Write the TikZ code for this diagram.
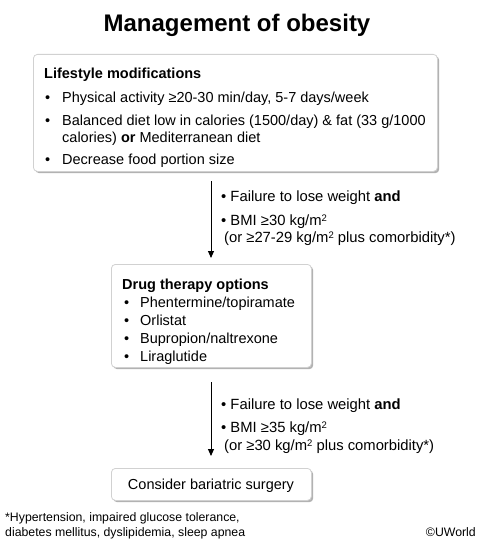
\documentclass[tikz,border=0pt]{standalone}
\usepackage{fontspec}
\setmainfont{Liberation Sans}
\usetikzlibrary{shadows,arrows.meta}
\newcommand\mysqr{\raisebox{4pt}{\fontsize{9.5}{10}\selectfont 2}}
\begin{document}
\begin{tikzpicture}[x=1pt,y=-1pt,
  box/.style={draw=black!18, line width=0.8pt, fill=white, rounded corners=4pt,
    drop shadow={shadow xshift=1.8pt, shadow yshift=-1.8pt, opacity=0.55, fill=black!55}},
  txt/.style={anchor=base west, inner sep=0pt, font=\fontsize{14.5}{16}\selectfont},
  bul/.style={anchor=base west, inner sep=0pt, font=\fontsize{14.5}{16}\selectfont},
  lab/.style={anchor=base west, inner sep=0pt, font=\fontsize{14.8}{16}\selectfont},
  small/.style={anchor=base west, inner sep=0pt, font=\fontsize{12.3}{14}\selectfont},
  arr/.style={-{Triangle[length=7pt,width=6pt]}, line width=0.9pt}]
\useasboundingbox (0,0) rectangle (481,543);
\node[inner sep=0pt, anchor=base, font=\fontsize{24}{26}\bfseries] (title) at (237,32) {Management of obesity};
% box 1
\node[box, minimum width=404pt, minimum height=117pt, anchor=north west] (b1) at (33,54) {};
\node[txt, font=\fontsize{14.5}{16}\bfseries] (b1h) at (44,78) {Lifestyle modifications};
\node[bul] (b1a) at (45,102) {•};
\node[txt] (b1at) at (62,102) {Physical activity ≥20-30 min/day, 5-7 days/week};
\node[bul] (b1b) at (45,125) {•};
\node[txt] (b1bt) at (62,125) {Balanced diet low in calories (1500/day) \& fat (33 g/1000};
\node[txt] (b1bt2) at (62,142) {calories) \textbf{or} Mediterranean diet};
\node[bul] (b1c) at (45,164) {•};
\node[txt] (b1ct) at (62,164) {Decrease food portion size};
% box 2
\node[box, minimum width=200pt, minimum height=103pt, anchor=north west] (b2) at (111,264) {};
\node[txt, font=\fontsize{14.5}{16}\bfseries] (b2h) at (122,289) {Drug therapy options};
\node[bul] (b2a) at (124,307) {•};
\node[txt] (b2at) at (140,307) {Phentermine/topiramate};
\node[bul] (b2b) at (124,325) {•};
\node[txt] (b2bt) at (140,325) {Orlistat};
\node[bul] (b2c) at (124,343) {•};
\node[txt] (b2ct) at (140,343) {Bupropion/naltrexone};
\node[bul] (b2d) at (124,361) {•};
\node[txt] (b2dt) at (140,361) {Liraglutide};
% box 3
\node[box, minimum width=200pt, minimum height=32pt, anchor=north west] (b3) at (111,468) {};
\node[inner sep=0pt, anchor=base, font=\fontsize{14.5}{16}\selectfont] (b3t) at (211,489) {Consider bariatric surgery};
% arrows
\coordinate (a1s) at (211,181);
\coordinate (a1e) at (211,258);
\draw[arr] (a1s) -- (a1e);
\coordinate (a2s) at (211,382);
\coordinate (a2e) at (211,456);
\draw[arr] (a2s) -- (a2e);
% labels 1
\node[lab] (l1a) at (221,201) {• Failure to lose weight \textbf{and}};
\node[lab] (l1b) at (221,225) {• BMI ≥30 kg/m\mysqr};
\node[lab] (l1c) at (224,242) {(or ≥27-29 kg/m\mysqr\ plus comorbidity*)};
% labels 2
\node[lab] (l2a) at (221,409) {• Failure to lose weight \textbf{and}};
\node[lab] (l2b) at (221,432) {• BMI ≥35 kg/m\mysqr};
\node[lab] (l2c) at (224,450) {(or ≥30 kg/m\mysqr\ plus comorbidity*)};
% footnote
\node[small] (f1) at (5,521) {*Hypertension, impaired glucose tolerance,};
\node[small] (f2) at (5,536) {diabetes mellitus, dyslipidemia, sleep apnea};
\node[small, anchor=base east] (cr) at (476,536) {©UWorld};
\end{tikzpicture}
\end{document}
